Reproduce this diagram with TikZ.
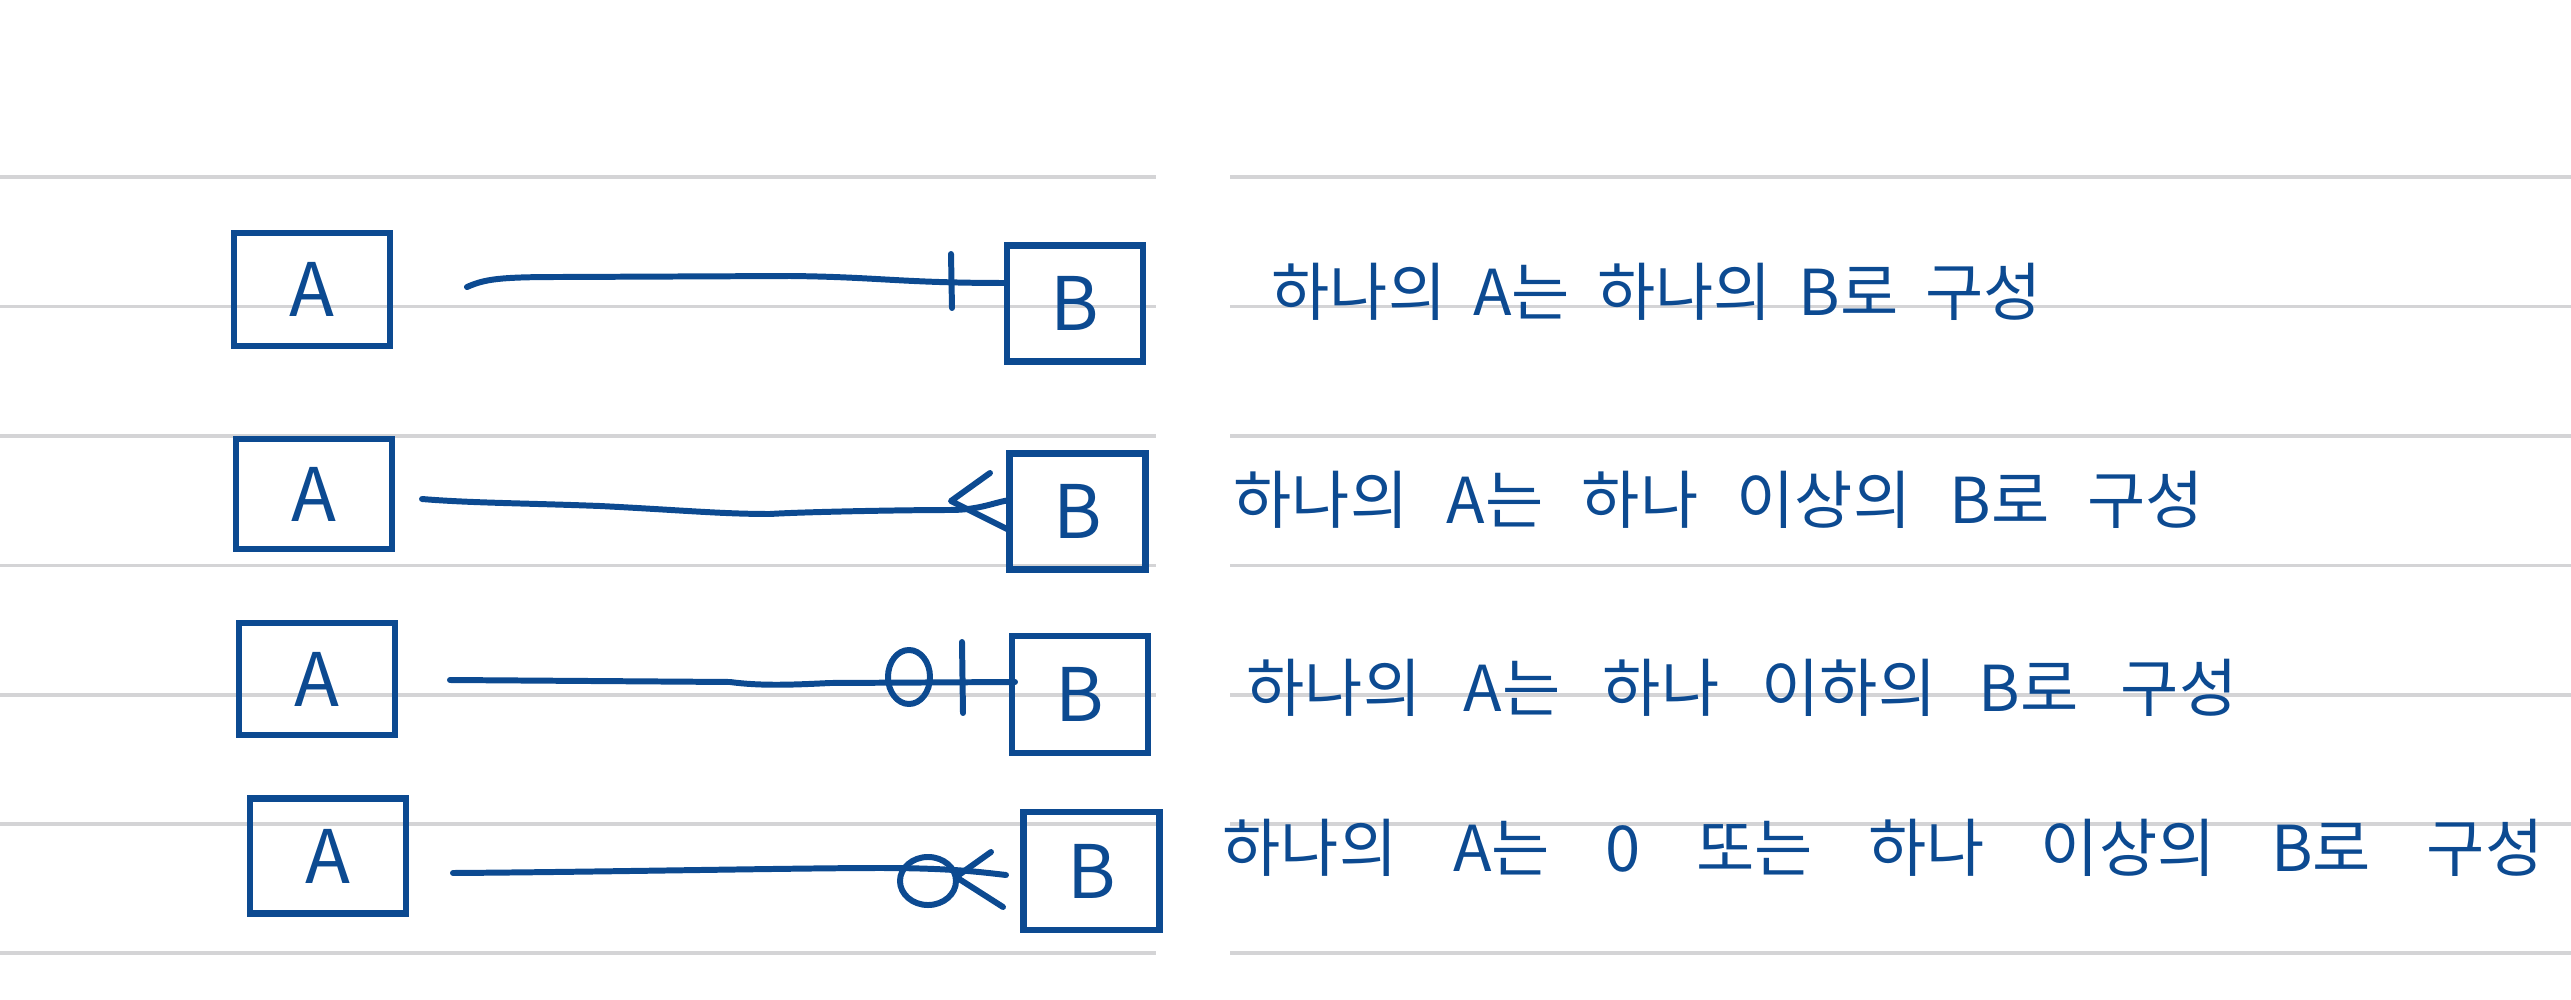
\documentclass[tikz,border=0pt]{standalone}
\usepackage{fontspec}
\setmainfont{Noto Sans CJK KR}
\usetikzlibrary{calc}
\definecolor{ink}{RGB}{12,74,145}
\definecolor{ruleline}{RGB}{212,212,214}
\begin{document}
\begin{tikzpicture}[x=0.01cm,y=-0.01cm,
  ent/.style={draw=ink,line width=1.9pt,minimum width=1.56cm,minimum height=1.13cm,inner sep=0pt,text=ink,font=\fontsize{21}{21}\selectfont},
  entb/.style={ent,minimum width=1.36cm,minimum height=1.16cm},
  conn/.style={draw=ink,line width=1.7pt,line cap=round,line join=round},
  ruled/.style={draw=ruleline,line width=0.9pt},
  txt/.style={anchor=west,text=ink,inner sep=0pt,font=\fontsize{18}{18}\selectfont}]
\useasboundingbox (0,0) rectangle (2571,1000);
% ruled paper lines
\foreach \yy in {177,306.5,436,565.5,695,824,953}{
  \draw[ruled] (0,\yy) -- (1156,\yy);
  \draw[ruled] (1230,\yy) -- (2571,\yy);
}
% row 1
\node[ent] (A1) at (312,289.5) {A};
\node[entb] (B1) at (1075,303.5) {B};
\coordinate (s1) at (467,287);
\coordinate (e1) at (1007,283);
\draw[conn] (s1) .. controls (485,279) and (500,277) .. (560,277) -- (790,276) .. controls (880,277) and (900,283) .. (e1);
\draw[conn] (951,254) -- (952,308);
\node[txt] (t1) at (1271,292) {\makebox[7.7cm][s]{하나의 A는 하나의 B로 구성}};
% row 2
\node[ent,minimum height=1.10cm] (A2) at (314,494) {A};
\node[entb] (B2) at (1077.5,511.5) {B};
\coordinate (s2) at (422,499);
\coordinate (e2) at (1010,500);
\draw[conn] (s2) .. controls (470,503) and (520,503) .. (600,506) .. controls (680,510) and (720,514) .. (770,514) .. controls (800,512) and (900,510) .. (950,510) .. controls (980,510) and (995,502) .. (e2);
\draw[conn] (990,473) -- (951,501) -- (1009,530);
\node[txt] (t2) at (1233,500) {\makebox[9.7cm][s]{하나의 A는 하나 이상의 B로 구성}};
% row 3
\node[ent,minimum height=1.12cm] (A3) at (317,679) {A};
\node[entb,minimum height=1.17cm] (B3) at (1080,694.5) {B};
\coordinate (s3) at (450,680);
\coordinate (e3) at (1015,682);
\draw[conn] (s3) -- (730,682) .. controls (760,686) and (790,685) .. (830,683) -- (e3);
\draw[conn] (909,677) ellipse [x radius=0.21cm, y radius=0.27cm];
\draw[conn] (962,642) -- (963,713);
\node[txt] (t3) at (1246,688) {\makebox[9.9cm][s]{하나의 A는 하나 이하의 B로 구성}};
% row 4
\node[ent,minimum height=1.15cm] (A4) at (328,856) {A};
\node[entb,minimum height=1.18cm] (B4) at (1091.5,871) {B};
\coordinate (s4) at (453,873);
\coordinate (e4) at (1006,875);
\draw[conn] (s4) .. controls (600,872) and (800,868) .. (880,868) .. controls (950,868) and (980,872) .. (e4);
\draw[conn] (928,881) ellipse [x radius=0.28cm, y radius=0.24cm];
\draw[conn] (991,852) -- (956,877) -- (1003,907);
\node[txt] (t4) at (1222,848) {\makebox[13.2cm][s]{하나의 A는 0 또는 하나 이상의 B로 구성}};
\end{tikzpicture}
\end{document}
